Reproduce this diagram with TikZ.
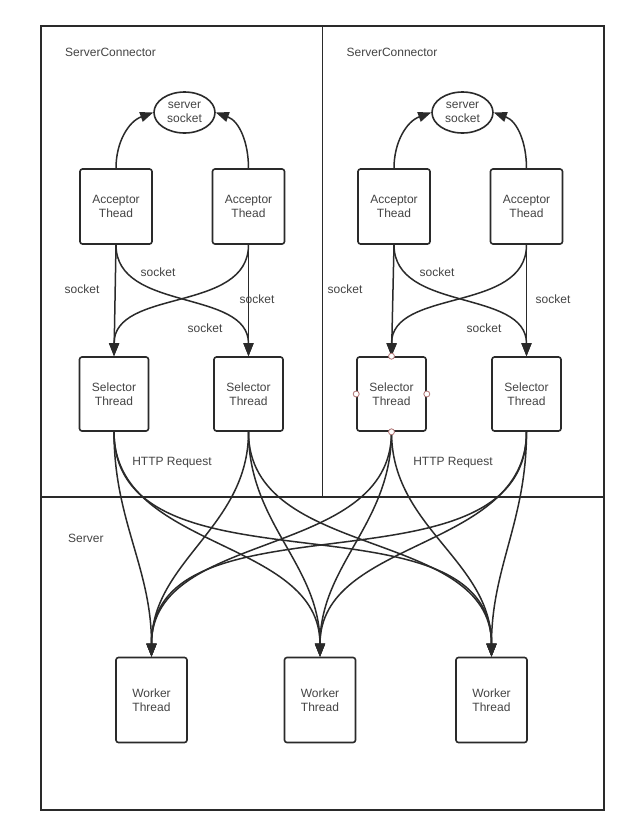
\documentclass[tikz,border=0pt]{standalone}
\usepackage{fontspec}
\setmainfont{Liberation Sans}
\usetikzlibrary{shapes.geometric,arrows.meta}
\definecolor{ink}{HTML}{2A2A2A}
\definecolor{txt}{HTML}{444444}
\definecolor{handlecol}{RGB}{175,115,115}
\begin{document}
\begin{tikzpicture}[x=1pt,y=-1pt,
  txtfont/.style={text=txt,font=\fontsize{12}{14}\selectfont},
  box/.style={txtfont,draw=ink,line width=1.6pt,rounded corners=2.5pt,minimum width=72pt,minimum height=75pt,inner sep=0pt,align=center},
  selbox/.style={box,minimum width=69pt,minimum height=74pt},
  workbox/.style={box,minimum width=71pt,minimum height=85pt},
  sockell/.style={txtfont,ellipse,draw=ink,line width=1.6pt,minimum width=61pt,minimum height=41pt,inner sep=0pt,align=center},
  lbl/.style={txtfont,inner sep=0pt},
  arr/.style={draw=ink,line width=1.5pt,-{Triangle[length=13pt,width=10pt]}},
  frame/.style={draw=ink,line width=1.6pt},
  handle/.style={circle,draw=handlecol,fill=white,line width=0.8pt,minimum size=6pt,inner sep=0pt}
]
\useasboundingbox (0,0) rectangle (640,831);
\fill[white] (0,0) rectangle (640,831);
% frames
\draw[frame] (41,26) rectangle (604,810);
\coordinate (vt) at (322.5,26);
\coordinate (vb) at (322.5,497);
\coordinate (hl) at (41,497);
\coordinate (hr) at (604,497);
\draw[frame] (vt) -- (vb);
\draw[frame] (hl) -- (hr);
% titles
\node[lbl,anchor=west] (t1) at (65,52) {ServerConnector};
\node[lbl,anchor=west] (t2) at (346.5,52) {ServerConnector};
\node[lbl,anchor=west] (t3) at (68,538) {Server};
% server sockets
\node[sockell] (ss1) at (184.5,112.5) {server\\socket};
\node[sockell] (ss2) at (462.5,112.5) {server\\socket};
% acceptors
\node[box] (a1) at (116,206.5) {Acceptor\\Thead};
\node[box] (a2) at (248.5,206.5) {Acceptor\\Thead};
\node[box] (a3) at (394,206.5) {Acceptor\\Thead};
\node[box] (a4) at (526.5,206.5) {Acceptor\\Thead};
% selectors
\node[selbox] (s1) at (114,394) {Selector\\Thread};
\node[selbox] (s2) at (248.5,394) {Selector\\Thread};
\node[selbox] (s3) at (391.5,394) {Selector\\Thread};
\node[selbox] (s4) at (526.5,394) {Selector\\Thread};
% workers
\node[workbox] (w1) at (151.5,700) {Worker\\Thread};
\node[workbox] (w2) at (320,700) {Worker\\Thread};
\node[workbox] (w3) at (491.5,700) {Worker\\Thread};
% acceptor -> server socket
\draw[arr] (a1.north) to[out=90,in=200] (ss1.west);
\draw[arr] (a2.north) to[out=90,in=-20] (ss1.east);
\draw[arr] (a3.north) to[out=90,in=200] (ss2.west);
\draw[arr] (a4.north) to[out=90,in=-20] (ss2.east);
% acceptor -> selector
\draw[arr] (a1.south) -- (s1.north);
\draw[arr] (a1.south) to[out=-90,in=90] (s2.north);
\draw[arr] (a2.south) to[out=-90,in=90] (s1.north);
\draw[arr] (a2.south) -- (s2.north);
\draw[arr] (a3.south) -- (s3.north);
\draw[arr] (a3.south) to[out=-90,in=90] (s4.north);
\draw[arr] (a4.south) to[out=-90,in=90] (s3.north);
\draw[arr] (a4.south) -- (s4.north);
% socket labels
\node[lbl] (l1) at (82,289) {socket};
\node[lbl] (l2) at (158,272) {socket};
\node[lbl] (l3) at (205,328) {socket};
\node[lbl] (l4) at (257,299) {socket};
\node[lbl] (l5) at (345,289) {socket};
\node[lbl] (l6) at (437,272) {socket};
\node[lbl] (l7) at (484,328) {socket};
\node[lbl] (l8) at (553,299) {socket};
\node[lbl] (h1) at (172,463) {HTTP Request};
\node[lbl] (h2) at (453,463) {HTTP Request};
% selector -> worker
\foreach \s in {s1,s2,s3,s4}{
  \foreach \w in {w1,w2,w3}{
    \draw[arr] (\s.south) to[out=-90,in=90] (\w.north);
  }
}
% selection handles
\node[handle] (k1) at (s3.north) {};
\node[handle] (k2) at (s3.west) {};
\node[handle] (k3) at (s3.east) {};
\node[handle] (k4) at (s3.south) {};
\end{tikzpicture}
\end{document}
